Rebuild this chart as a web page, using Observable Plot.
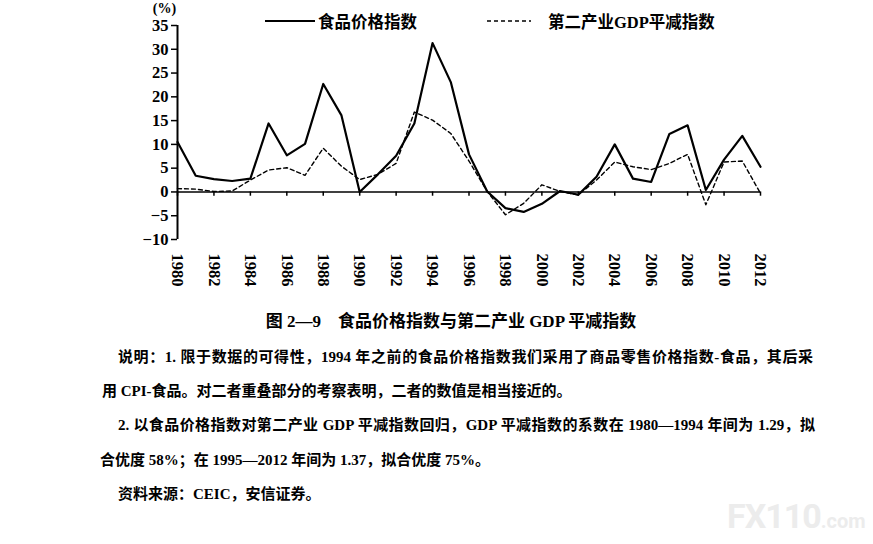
<!DOCTYPE html>
<html>
<head>
<meta charset="utf-8">
<script src="https://cdn.jsdelivr.net/npm/d3@7"></script>
<script src="https://cdn.jsdelivr.net/npm/@observablehq/plot@0.6"></script>
<style>
  html, body { margin: 0; padding: 0; background: #fff; }
  #wrap { position: relative; width: 873px; height: 544px; overflow: hidden; background: #fff;
          font-family: "Liberation Serif", "Noto Sans CJK SC", serif; font-weight: bold; color: #000; }
  #chart { position: absolute; left: 0; top: 0; }
  .leg { position: absolute; top: 10px; height: 22px; display: flex; align-items: center; font-size: 16.5px; }
  .leg svg { margin-right: 3px; }
  .cap { position: absolute; font-size: 15px; line-height: 20px; white-space: nowrap; }
  .just { text-align: justify; text-align-last: justify; white-space: normal; }
  #wm { position: absolute; left: 727px; top: 496px; color: #ececec; font-family: "Roboto", sans-serif; font-weight: bold; }
</style>
</head>
<body>
<div id="wrap">
  <div id="chart"></div>
  <div class="leg" style="left:265px">
    <svg width="50" height="6"><line x1="0" y1="3" x2="50" y2="3" stroke="#000" stroke-width="2"/></svg>
    <span>食品价格指数</span>
  </div>
  <div class="leg" style="left:487px">
    <svg width="58" height="6"><line x1="0" y1="3" x2="44" y2="3" stroke="#000" stroke-width="1.3" stroke-dasharray="4,3"/></svg>
    <span>第二产业GDP平减指数</span>
  </div>
  <div class="cap" id="title" style="left:0; width:902px; text-align:center; top:312px; font-size:17px;">图 2—9&nbsp;&nbsp;&nbsp;&nbsp;食品价格指数与第二产业 GDP 平减指数</div>
  <div class="cap just" style="left:118px; width:695px; top:347px;">说明：1. 限于数据的可得性，1994 年之前的食品价格指数我们采用了商品零售价格指数-食品，其后采</div>
  <div class="cap" style="left:102px; top:381px;">用 CPI-食品。对二者重叠部分的考察表明，二者的数值是相当接近的。</div>
  <div class="cap just" style="left:118px; width:697px; top:415px;">2. 以食品价格指数对第二产业 GDP 平减指数回归，GDP 平减指数的系数在 1980—1994 年间为 1.29，拟</div>
  <div class="cap" style="left:100px; top:450px;">合优度 58%；在 1995—2012 年间为 1.37，拟合优度 75%。</div>
  <div class="cap" style="left:118px; top:484px;">资料来源：CEIC，安信证券。</div>
  <div id="wm"><span style="font-size:34px;letter-spacing:-1px">FX110</span><span style="font-size:20px">.com</span></div>
</div>
<script>
const years = [1980,1981,1982,1983,1984,1985,1986,1987,1988,1989,1990,1991,1992,1993,1994,1995,1996,
               1997,1998,1999,2000,2001,2002,2003,2004,2005,2006,2007,2008,2009,2010,2011,2012];
const foodPriceIndex = [10.5,3.4,2.7,2.3,2.8,14.4,7.7,10.1,22.7,16.1,0.0,3.7,7.6,14.4,31.3,23.1,7.9,
                        0.1,-3.4,-4.2,-2.5,0.2,-0.6,3.2,10.0,2.8,2.1,12.2,14.0,0.4,6.8,11.8,5.3];
const secondaryGdpDeflator = [0.7,0.6,0.1,0.2,2.5,4.6,5.1,3.5,9.2,5.4,2.6,3.7,6.0,16.8,15.1,12.3,6.5,
                              0.1,-4.8,-2.4,1.5,0.1,-0.6,2.5,6.3,5.3,4.7,6.0,7.9,-2.7,6.3,6.5,-0.3];
const xTickYears = [1980,1982,1984,1986,1988,1990,1992,1994,1996,1998,2000,2002,2004,2006,2008,2010,2012];
const yTicks = [-10,-5,0,5,10,15,20,25,30,35];
const yUnit = ["(%)"];

const food = years.map((y, i) => ({year: y, value: foodPriceIndex[i]}));
const gdp = years.map((y, i) => ({year: y, value: secondaryGdpDeflator[i]}));

const chart = Plot.plot({
  width: 873,
  height: 300,
  marginLeft: 177,
  marginRight: 113,
  marginTop: 25,
  marginBottom: 61,
  x: {domain: [1980, 2012]},
  y: {domain: [-10, 35]},
  style: {fontFamily: "'Liberation Serif', serif", fontSize: "16px", fontWeight: "bold", color: "#000", background: "transparent"},
  marks: [
    Plot.axisY({ticks: yTicks, tickSize: 6, tickPadding: 3, label: null, fontSize: 16.5, fontWeight: "bold", strokeWidth: 1.5}),
    Plot.axisX({ticks: xTickYears, tickSize: 0, tickRotate: 90, tickPadding: 14, tickFormat: d => String(d), label: null, fontSize: 16.5, fontWeight: "bold"}),
    Plot.ruleX([1980], {y1: -10, y2: 35, strokeWidth: 2}),
    Plot.ruleY([0], {strokeWidth: 1.5}),
    Plot.ruleX(xTickYears, {x: d => d, y1: 0, y2: -0.9, strokeWidth: 1.5}),
    Plot.lineY(gdp, {x: "year", y: "value", stroke: "#000", strokeWidth: 1.4, strokeDasharray: "4,3"}),
    Plot.lineY(food, {x: "year", y: "value", stroke: "#000", strokeWidth: 2.2}),
    Plot.text(yUnit, {frameAnchor: "top-left", dx: -13, dy: -17, lineAnchor: "middle", text: d => d, fontSize: 14, fontWeight: "bold", textAnchor: "middle"})
  ]
});
document.getElementById("chart").appendChild(chart);
</script>
</body>
</html>
